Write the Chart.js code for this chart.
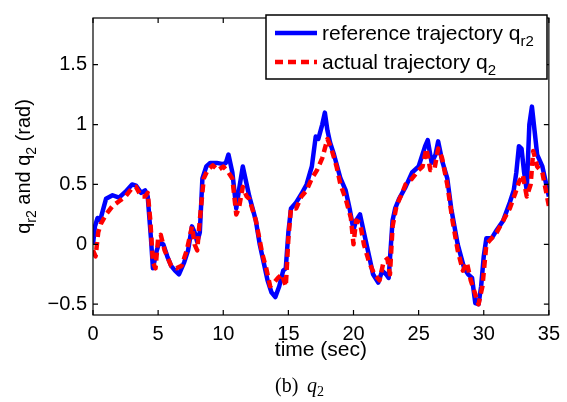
<!DOCTYPE html>
<html>
<head>
<meta charset="UTF-8">
<title>q2 trajectory</title>
<script src="https://cdn.jsdelivr.net/npm/chart.js"></script>
<style>
  html, body { margin: 0; padding: 0; background: #fff; }
  #wrap { width: 567px; height: 402px; }
</style>
</head>
<body>
<div id="wrap"><canvas id="chart" width="567" height="402"></canvas></div>
<script>
// reference trajectory q_r2 (time in sec, angle in rad)
const refTime  = [0, 0.15, 0.35, 0.55, 0.8, 1.0, 1.5, 2.0, 2.5, 3.0, 3.3, 3.7, 4.0, 4.2, 4.45, 4.6, 4.9, 5.1, 5.4, 5.7,
  6.0, 6.3, 6.6, 7.0, 7.3, 7.6, 7.8, 8.0, 8.2, 8.4, 8.7, 9.0, 9.5, 10.0, 10.2, 10.4, 10.7, 11.0, 11.2, 11.5,
  11.8, 12.0, 12.5, 12.8, 13.1, 13.4, 13.7, 14.0, 14.3, 14.6, 14.8, 15.0, 15.2, 15.6, 16.0, 16.4, 16.8, 17.1, 17.3, 17.6,
  17.8, 18.0, 18.2, 18.5, 19.0, 19.4, 19.7, 20.0, 20.2, 20.5, 20.8, 21.2, 21.5, 21.9, 22.2, 22.5, 22.7, 23.0, 23.2, 23.5,
  24.0, 24.5, 25.0, 25.5, 25.7, 26.0, 26.3, 26.5, 26.8, 27.2, 27.5, 28.0, 28.5, 28.8, 29.1, 29.35, 29.6, 29.8, 30.0, 30.2,
  30.6, 31.0, 31.5, 32.0, 32.3, 32.5, 32.7, 32.9, 33.1, 33.3, 33.5, 33.7, 33.9, 34.1, 34.5, 34.8, 35.0];
const refAngle = [0, 0.15, 0.22, 0.2, 0.3, 0.38, 0.41, 0.39, 0.44, 0.5, 0.49, 0.43, 0.45, 0.4, 0.05, -0.2, -0.05, 0.02, 0.0, -0.1,
  -0.18, -0.22, -0.25, -0.15, -0.05, 0.15, 0.1, 0.02, 0.1, 0.55, 0.65, 0.68, 0.68, 0.67, 0.68, 0.75, 0.6, 0.3, 0.45, 0.65,
  0.5, 0.4, 0.2, 0.0, -0.15, -0.3, -0.4, -0.44, -0.35, -0.22, -0.2, 0.1, 0.3, 0.35, 0.42, 0.5, 0.65, 0.9, 0.88, 1.0,
  1.1, 0.95, 0.85, 0.75, 0.55, 0.45, 0.3, 0.12, 0.2, 0.25, 0.1, -0.1, -0.25, -0.32, -0.22, -0.25, -0.28, 0.2, 0.3, 0.38,
  0.48, 0.6, 0.65, 0.82, 0.87, 0.68, 0.75, 0.86, 0.7, 0.55, 0.3, 0.0, -0.2, -0.25, -0.28, -0.49, -0.5, -0.35, -0.1, 0.05,
  0.05, 0.12, 0.2, 0.35, 0.45, 0.6, 0.82, 0.8, 0.6, 0.45, 1.0, 1.15, 0.95, 0.75, 0.65, 0.5, 0.4];

// actual trajectory q_2
const actTime  = [0, 0.2, 0.4, 0.6, 1.0, 1.5, 2.0, 2.5, 3.0, 3.3, 3.7, 4.0, 4.2, 4.4, 4.6, 4.8, 5.0, 5.2, 5.5, 6.0,
  6.4, 6.8, 7.2, 7.6, 7.8, 8.0, 8.2, 8.5, 8.8, 9.2, 9.6, 10.0, 10.4, 10.7, 11.0, 11.2, 11.5, 11.8, 12.0, 12.5,
  13.0, 13.3, 13.6, 13.9, 14.2, 14.5, 14.8, 15.0, 15.2, 15.6, 16.0, 16.4, 16.8, 17.2, 17.6, 18.0, 18.3, 18.7, 19.0, 19.4,
  19.8, 20.0, 20.2, 20.5, 20.8, 21.2, 21.6, 22.0, 22.3, 22.6, 22.8, 23.0, 23.3, 23.7, 24.0, 24.5, 25.0, 25.3, 25.6, 25.9,
  26.2, 26.5, 26.8, 27.2, 27.6, 28.0, 28.4, 28.7, 29.0, 29.3, 29.6, 29.9, 30.2, 30.6, 31.0, 31.5, 32.0, 32.4, 32.7, 33.0,
  33.3, 33.6, 33.8, 34.1, 34.5, 35.0];
const actAngle = [-0.05, -0.1, 0.1, 0.17, 0.25, 0.32, 0.36, 0.4, 0.47, 0.48, 0.4, 0.4, 0.43, 0.2, -0.15, -0.2, 0.05, 0.08, -0.05, -0.18,
  -0.2, -0.18, -0.05, 0.15, 0.0, -0.05, 0.2, 0.55, 0.62, 0.66, 0.62, 0.65, 0.6, 0.55, 0.25, 0.3, 0.48, 0.4, 0.38, 0.2,
  -0.08, -0.2, -0.35, -0.32, -0.28, -0.25, -0.35, 0.05, 0.3, 0.3, 0.4, 0.45, 0.55, 0.62, 0.72, 0.88, 0.8, 0.65, 0.5, 0.38,
  0.22, 0.0, 0.2, 0.18, 0.0, -0.15, -0.25, -0.3, -0.15, -0.12, -0.25, 0.15, 0.32, 0.42, 0.5, 0.55, 0.62, 0.65, 0.8, 0.62,
  0.62, 0.8, 0.72, 0.5, 0.2, -0.05, -0.22, -0.15, -0.3, -0.4, -0.5, -0.35, 0.0, 0.05, 0.1, 0.2, 0.3, 0.42, 0.52, 0.58,
  0.4, 0.5, 0.78, 0.65, 0.6, 0.32];

const xTicks = [0, 5, 10, 15, 20, 25, 30, 35];
const yTicks = [-0.5, 0, 0.5, 1, 1.5];
const yTickLabels = ['\u22120.5', '0', '0.5', '1', '1.5'];

const FONT = '"Liberation Sans", Arial, sans-serif';

function toPoints(xs, ys) {
  return xs.map((x, i) => ({ x: x, y: ys[i] }));
}

// draws text with subscripts, parts = [[text, isSub], ...]
function drawRich(ctx, parts, x, y, size) {
  let cx = x;
  parts.forEach(p => {
    const sub = p[1];
    ctx.font = (sub ? Math.round(size * 0.7) : size) + 'px ' + FONT;
    ctx.fillText(p[0], cx, sub ? y + size * 0.3 : y);
    cx += ctx.measureText(p[0]).width;
  });
  return cx - x;
}
function richWidth(ctx, parts, size) {
  let w = 0;
  parts.forEach(p => {
    ctx.font = (p[1] ? Math.round(size * 0.7) : size) + 'px ' + FONT;
    w += ctx.measureText(p[0]).width;
  });
  return w;
}

const frame = {
  id: 'frame',
  afterDraw(chart) {
    const { ctx, chartArea: a, scales } = chart;
    ctx.save();
    ctx.strokeStyle = '#000';
    ctx.lineWidth = 1.2;
    ctx.strokeRect(a.left, a.top, a.right - a.left, a.bottom - a.top);
    // tick marks inside on all four sides
    ctx.beginPath();
    scales.x.ticks.forEach(t => {
      const px = scales.x.getPixelForValue(t.value);
      ctx.moveTo(px, a.bottom); ctx.lineTo(px, a.bottom - 5);
      ctx.moveTo(px, a.top); ctx.lineTo(px, a.top + 5);
    });
    scales.y.ticks.forEach(t => {
      const py = scales.y.getPixelForValue(t.value);
      ctx.moveTo(a.left, py); ctx.lineTo(a.left + 5, py);
      ctx.moveTo(a.right, py); ctx.lineTo(a.right - 5, py);
    });
    ctx.stroke();

    // legend
    const lx = 266, ly = 15, lw = 281, lh = 64;
    ctx.fillStyle = '#fff';
    ctx.fillRect(lx, ly, lw, lh);
    ctx.lineWidth = 1.5;
    ctx.strokeRect(lx, ly, lw, lh);
    const items = chart.data.datasets.slice().sort((p, q) => q.order - p.order);
    items.forEach((ds, i) => {
      const y = 33 + i * 29;
      ctx.beginPath();
      ctx.strokeStyle = ds.borderColor;
      ctx.lineWidth = 4.5;
      ctx.setLineDash(ds.borderDash || []);
      ctx.moveTo(275, y); ctx.lineTo(317, y);
      ctx.stroke();
      ctx.setLineDash([]);
      ctx.fillStyle = '#000';
      ctx.textBaseline = 'alphabetic';
      drawRich(ctx, ds.richLabel, 322, y + 7, 21);
    });

    // y axis title (rotated)
    const yParts = [['q', false], ['r2', true], [' and q', false], ['2', true], [' (rad)', false]];
    ctx.save();
    ctx.translate(30, (a.top + a.bottom) / 2);
    ctx.rotate(-Math.PI / 2);
    ctx.fillStyle = '#000';
    drawRich(ctx, yParts, -richWidth(ctx, yParts, 20) / 2, 0, 20);
    ctx.restore();

    // x axis title
    ctx.font = '21px ' + FONT;
    ctx.textAlign = 'center';
    ctx.fillText('time (sec)', (a.left + a.right) / 2, 356);

    // caption
    ctx.textAlign = 'left';
    ctx.font = '20px "Liberation Serif", "Times New Roman", serif';
    ctx.fillText('(b)', 275, 392);
    ctx.font = 'italic 20px "Liberation Serif", "Times New Roman", serif';
    ctx.fillText('q', 307, 392);
    ctx.font = '14px "Liberation Serif", "Times New Roman", serif';
    ctx.fillText('2', 317, 396);
    ctx.restore();
  }
};

new Chart(document.getElementById('chart'), {
  type: 'line',
  data: {
    datasets: [
      {
        label: 'reference trajectory q_r2',
        richLabel: [['reference trajectory q', false], ['r2', true]],
        data: toPoints(refTime, refAngle),
        borderColor: '#0000ff',
        borderWidth: 4.5,
        order: 2
      },
      {
        label: 'actual trajectory q_2',
        richLabel: [['actual trajectory q', false], ['2', true]],
        data: toPoints(actTime, actAngle),
        borderColor: '#ff0000',
        borderWidth: 4.5,
        borderDash: [8, 5],
        order: 1
      }
    ]
  },
  options: {
    responsive: false,
    animation: false,
    parsing: false,
    layout: { padding: { top: 9, right: 14, left: 0, bottom: 0 } },
    elements: { point: { radius: 0 }, line: { tension: 0, borderJoinStyle: 'round', borderCapStyle: 'butt' } },
    plugins: { legend: { display: false }, tooltip: { enabled: false } },
    scales: {
      x: {
        type: 'linear',
        min: 0, max: 35,
        afterBuildTicks: s => { s.ticks = xTicks.map(v => ({ value: v })); },
        afterFit: s => { s.height = 87; },
        grid: { display: false, drawTicks: false },
        border: { display: false },
        ticks: { color: '#000', font: { family: FONT, size: 20 }, padding: 7, maxRotation: 0 }
      },
      y: {
        type: 'linear',
        min: -0.59, max: 1.89,
        afterBuildTicks: s => { s.ticks = yTicks.map(v => ({ value: v })); },
        afterFit: s => { s.width = 93; },
        grid: { display: false, drawTicks: false },
        border: { display: false },
        ticks: {
          color: '#000', font: { family: FONT, size: 20 }, padding: 6,
          callback: (v, i) => yTickLabels[i]
        }
      }
    }
  },
  plugins: [frame]
});
</script>
</body>
</html>
